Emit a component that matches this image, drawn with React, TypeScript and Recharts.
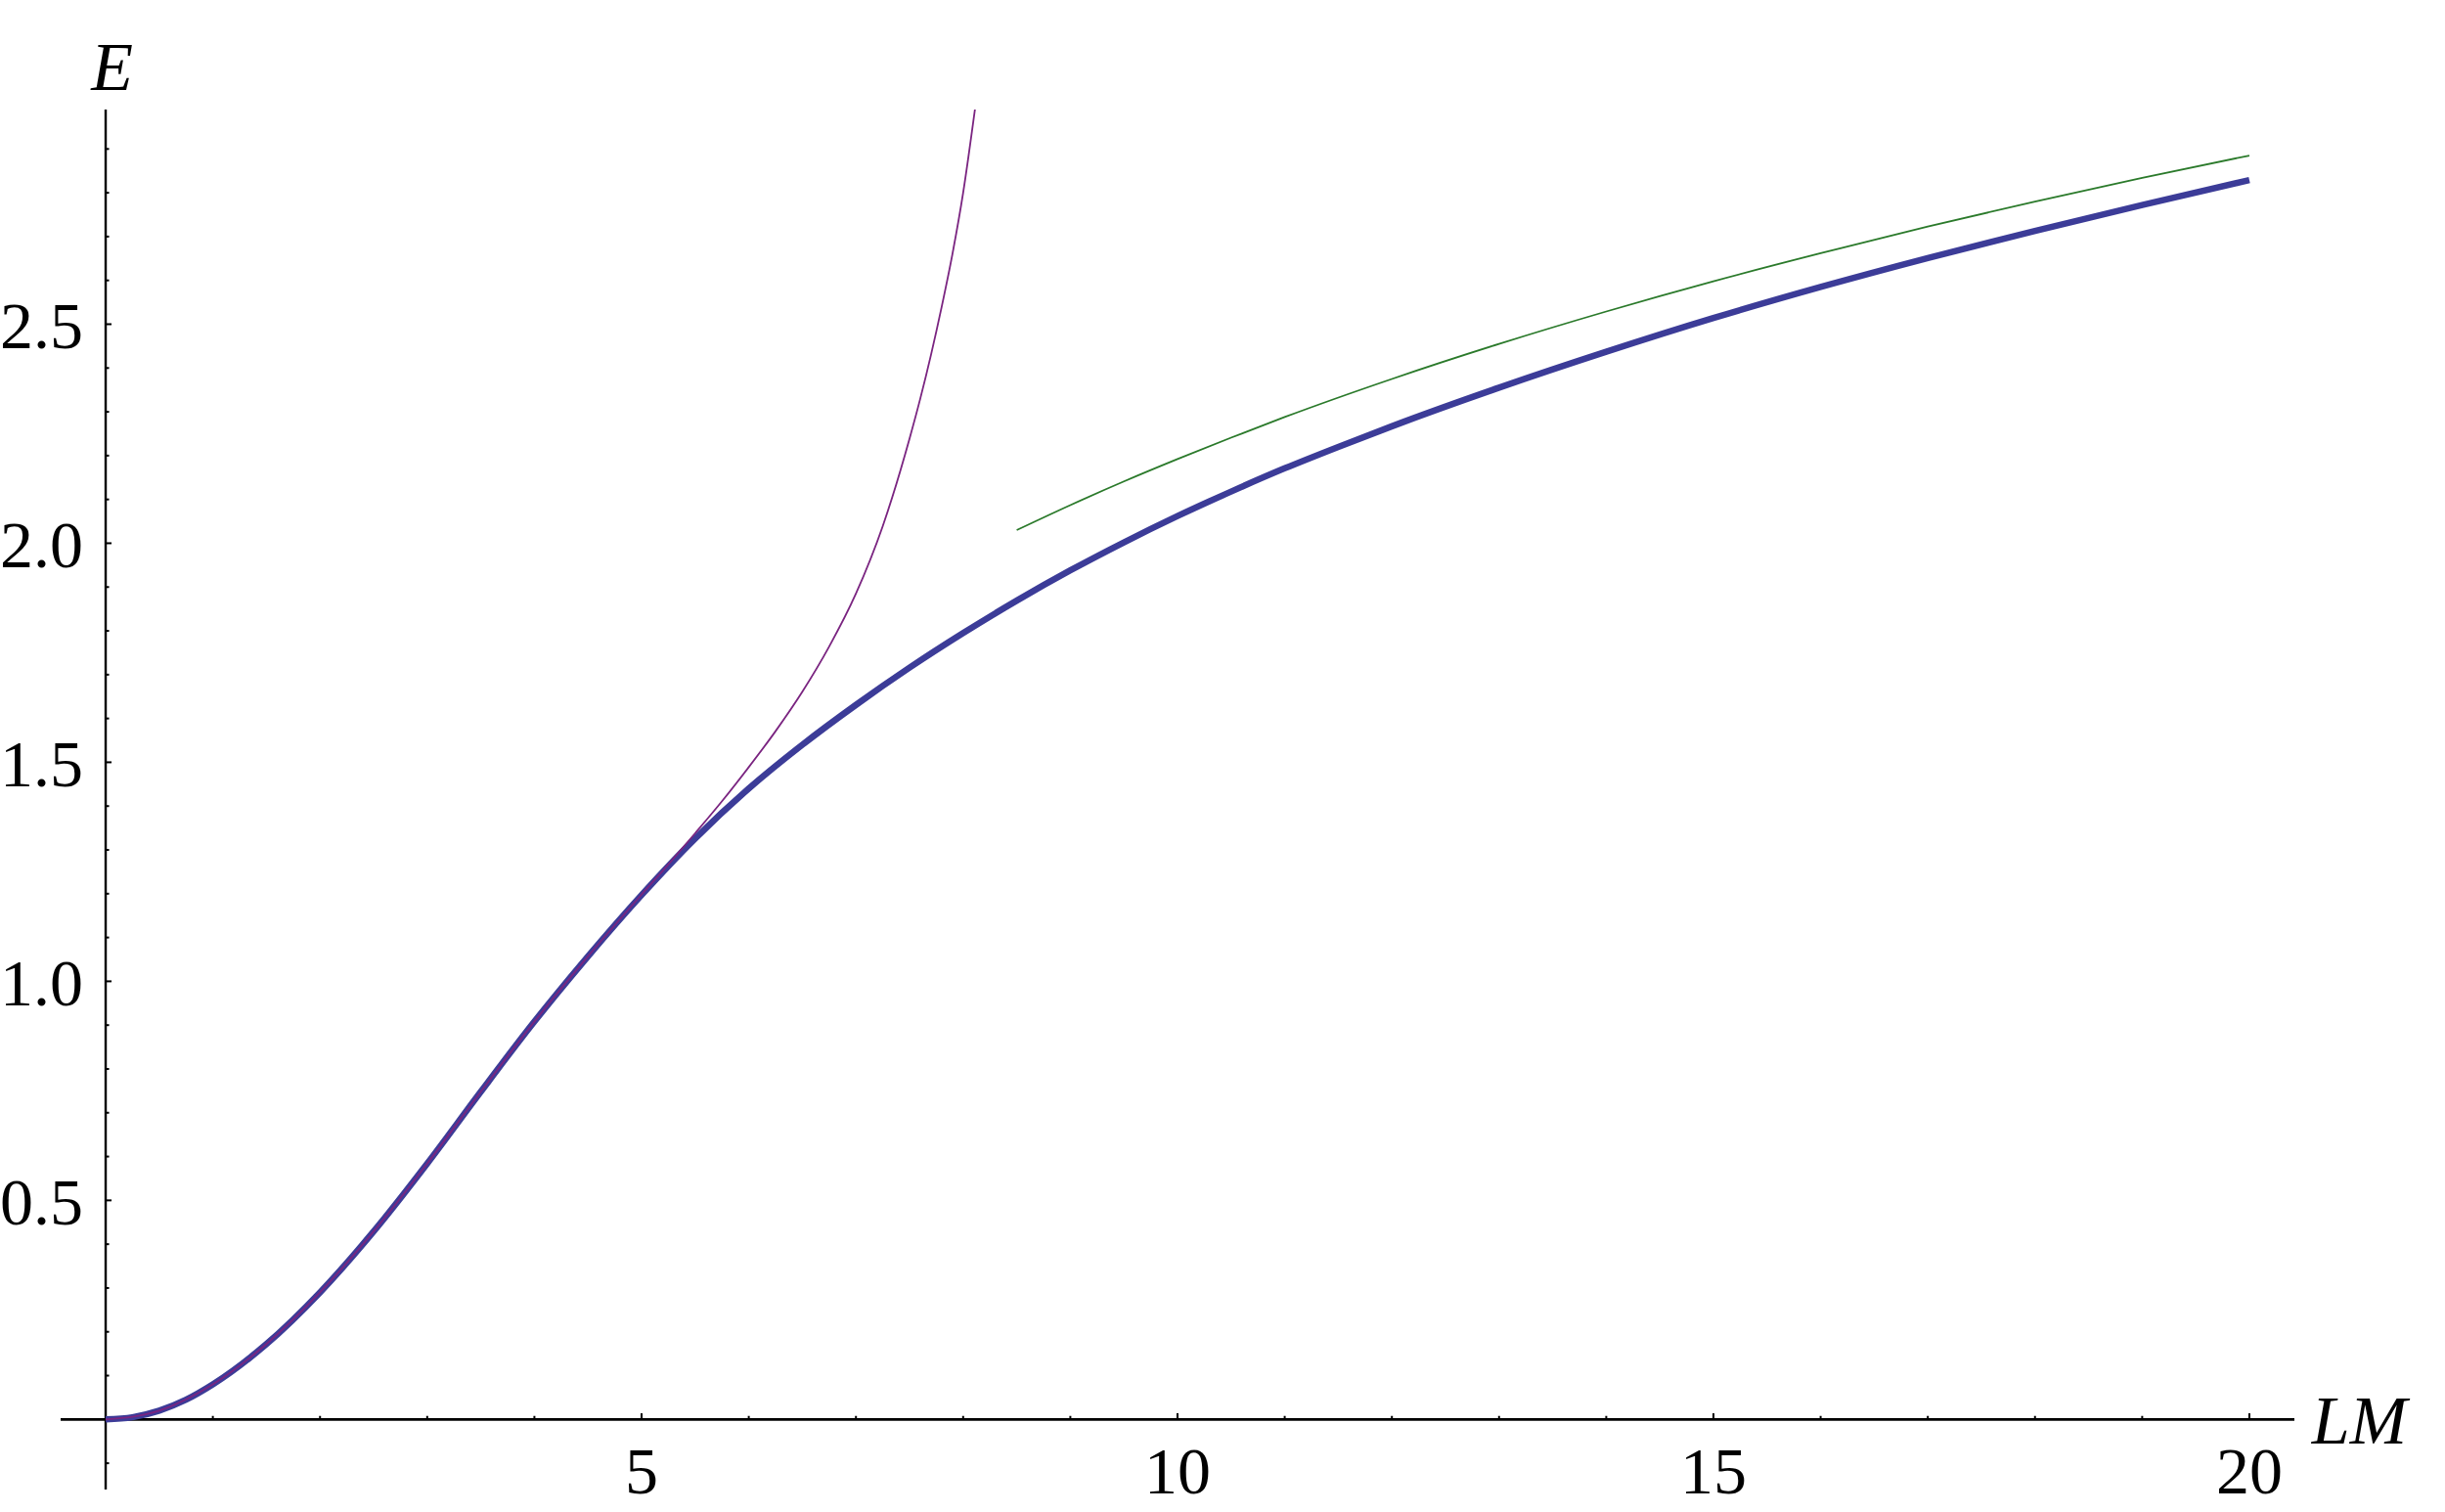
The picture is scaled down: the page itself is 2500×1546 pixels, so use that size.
import { LineChart, Line, XAxis, YAxis, ReferenceLine, ReferenceDot } from 'recharts';

// exact energy curve (thick)
const exactX = [0, 0.25, 0.5, 0.75, 1, 1.5, 2, 2.5, 3, 3.5, 4, 4.5, 5, 5.5, 6, 6.5, 7, 7.5, 8, 8.5, 9, 9.5, 10, 10.5, 11, 11.5, 12, 13, 14, 15, 16, 17, 18, 19, 20];
const exactE = [0, 0.005, 0.02, 0.045, 0.08, 0.172, 0.29, 0.429, 0.584, 0.748, 0.908, 1.057, 1.197, 1.326, 1.44, 1.54, 1.631, 1.716, 1.795, 1.869, 1.938, 2.002, 2.062, 2.118, 2.171, 2.22, 2.267, 2.355, 2.437, 2.514, 2.585, 2.651, 2.713, 2.772, 2.829];

// small-LM expansion (thin purple)
const smallX = [0, 0.5, 1, 1.5, 2, 2.5, 3, 3.5, 4, 4.5, 5, 5.25, 5.5, 5.75, 6, 6.25, 6.5, 6.75, 7, 7.25, 7.5, 7.6, 7.7, 7.8, 7.9, 8, 8.11];
const smallE = [0, 0.02, 0.08, 0.172, 0.29, 0.429, 0.584, 0.748, 0.908, 1.057, 1.198, 1.267, 1.338, 1.411, 1.489, 1.571, 1.661, 1.764, 1.885, 2.039, 2.239, 2.33, 2.43, 2.54, 2.66, 2.8, 2.99];

// large-LM asymptote (thin green)
const largeX = [8.5, 9, 9.5, 10, 10.5, 11, 12, 13, 14, 15, 16, 17, 18, 19, 20];
const largeE = [2.03, 2.087, 2.141, 2.192, 2.241, 2.288, 2.375, 2.455, 2.529, 2.598, 2.662, 2.723, 2.78, 2.834, 2.885];

const xMajorTicks = [5, 10, 15, 20];
const xTickLabels = ['5', '10', '15', '20'];
const xMinorTicks = [1, 2, 3, 4, 6, 7, 8, 9, 11, 12, 13, 14, 16, 17, 18, 19];
const yMajorTicks = [0.5, 1, 1.5, 2, 2.5];
const yTickLabels = ['0.5', '1.0', '1.5', '2.0', '2.5'];
const yMinorTicks = [-0.1, 0.1, 0.2, 0.3, 0.4, 0.6, 0.7, 0.8, 0.9, 1.1, 1.2, 1.3, 1.4, 1.6, 1.7, 1.8, 1.9, 2.1, 2.2, 2.3, 2.4, 2.6, 2.7, 2.8, 2.9];

const toPoints = (xs: number[], ys: number[]) => xs.map((x, i) => ({ x, E: ys[i] }));

const serif = 'Liberation Serif, Times New Roman, serif';
const labelFont = { fill: '#000', fontSize: 68, fontFamily: serif };

export default function App() {
  return (
    <div style={{ position: 'absolute', left: 0, top: 0, width: 2500, height: 1546, background: '#fff', fontFamily: serif }}>
      <LineChart width={2500} height={1546} margin={{ top: 112, right: 154, bottom: 23, left: 62 }}>
        <XAxis type="number" dataKey="x" domain={[-0.42, 20.42]} allowDataOverflow hide />
        <YAxis type="number" domain={[-0.16, 2.99]} allowDataOverflow hide />

        <ReferenceLine y={0} stroke="#000" strokeWidth={2.6} />
        <ReferenceLine x={0} stroke="#000" strokeWidth={2.4} />

        {xMajorTicks.map((t) => (
          <ReferenceLine key={'xM' + t} segment={[{ x: t, y: 0 }, { x: t, y: 0.014 }]} stroke="#000" strokeWidth={2} />
        ))}
        {xMinorTicks.map((t) => (
          <ReferenceLine key={'xm' + t} segment={[{ x: t, y: 0 }, { x: t, y: 0.008 }]} stroke="#000" strokeWidth={2} />
        ))}
        {yMajorTicks.map((t) => (
          <ReferenceLine key={'yM' + t} segment={[{ x: 0, y: t }, { x: 0.055, y: t }]} stroke="#000" strokeWidth={2} />
        ))}
        {yMinorTicks.map((t) => (
          <ReferenceLine key={'ym' + t} segment={[{ x: 0, y: t }, { x: 0.032, y: t }]} stroke="#000" strokeWidth={2} />
        ))}

        {xMajorTicks.map((t, i) => (
          <ReferenceDot key={'xl' + t} x={t} y={0} r={0} fill="none" stroke="none"
            label={{ value: xTickLabels[i], position: 'bottom', offset: 27, ...labelFont }} />
        ))}
        {yMajorTicks.map((t, i) => (
          <ReferenceDot key={'yl' + t} x={0} y={t} r={0} fill="none" stroke="none"
            label={{ value: yTickLabels[i], position: 'left', offset: 23, ...labelFont }} />
        ))}
        <ReferenceDot x={0.06} y={2.98} r={0} fill="none" stroke="none"
          label={{ value: 'E', position: 'top', offset: 24, fontStyle: 'italic', ...labelFont, fontSize: 70 }} />
        <ReferenceDot x={20.4} y={0} r={0} fill="none" stroke="none"
          label={{ value: 'LM', position: 'right', offset: 20, fontStyle: 'italic', ...labelFont, fontSize: 70 }} />

        <Line data={toPoints(exactX, exactE)} dataKey="E" type="monotone" stroke="#3c3c98" strokeWidth={6.5}
          dot={false} activeDot={false} isAnimationActive={false} />
        <Line data={toPoints(smallX, smallE)} dataKey="E" type="monotone" stroke="#7a2480" strokeWidth={1.8}
          dot={false} activeDot={false} isAnimationActive={false} />
        <Line data={toPoints(largeX, largeE)} dataKey="E" type="monotone" stroke="#2b7a2b" strokeWidth={1.8}
          dot={false} activeDot={false} isAnimationActive={false} />
      </LineChart>
    </div>
  );
}
